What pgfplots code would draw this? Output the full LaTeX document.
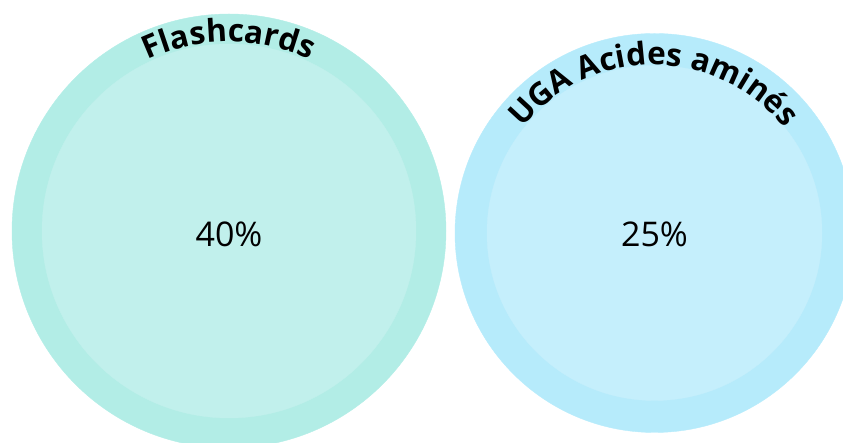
\documentclass[border=0pt]{standalone}
\usepackage{fontspec}
\setmainfont{Open Sans}
\usepackage{pgfplots}
\pgfplotsset{compat=1.18}
\usetikzlibrary{decorations.text}

\definecolor{tealout}{HTML}{B2EDE6}
\definecolor{tealin}{HTML}{C1F0EC}
\definecolor{blueout}{HTML}{B6EBFB}
\definecolor{bluein}{HTML}{C5EFFC}

\begin{document}
\begin{tikzpicture}
\useasboundingbox (0,0) rectangle (843pt,443pt);
\begin{axis}[
    at={(0,0)}, anchor=south west,
    width=843pt, height=443pt,
    scale only axis,
    xmin=0, xmax=843, ymin=0, ymax=443,
    hide axis,
    clip marker paths=true,
]
% outer rings
\addplot[only marks, mark=*, color=tealout, mark size=217pt]
    coordinates {(229,212)};
\addplot[only marks, mark=*, color=blueout, mark size=199.5pt]
    coordinates {(654.5,210)};
% inner discs
\addplot[only marks, mark=*, color=tealin, mark size=187pt]
    coordinates {(229,212)};
\addplot[only marks, mark=*, color=bluein, mark size=167.5pt]
    coordinates {(654.5,210)};

% curved labels
\path[decorate, decoration={text along path, text align=center,
    text={|\fontsize{31.5}{31.5}\selectfont\bfseries|Flashcards}}]
    (axis cs:40,212) arc[start angle=180, end angle=0, radius=189pt];
\path[decorate, decoration={text along path, text align=center,
    text={|\fontsize{31.5}{31.5}\selectfont\bfseries|UGA Acides aminés}}]
    (axis cs:485.5,210) arc[start angle=180, end angle=0, radius=168pt];

% values
\node[font=\fontsize{34}{34}\selectfont] at (axis cs:229,209) {40\%};
\node[font=\fontsize{34}{34}\selectfont] at (axis cs:654.5,209) {25\%};
\end{axis}
\end{tikzpicture}
\end{document}
